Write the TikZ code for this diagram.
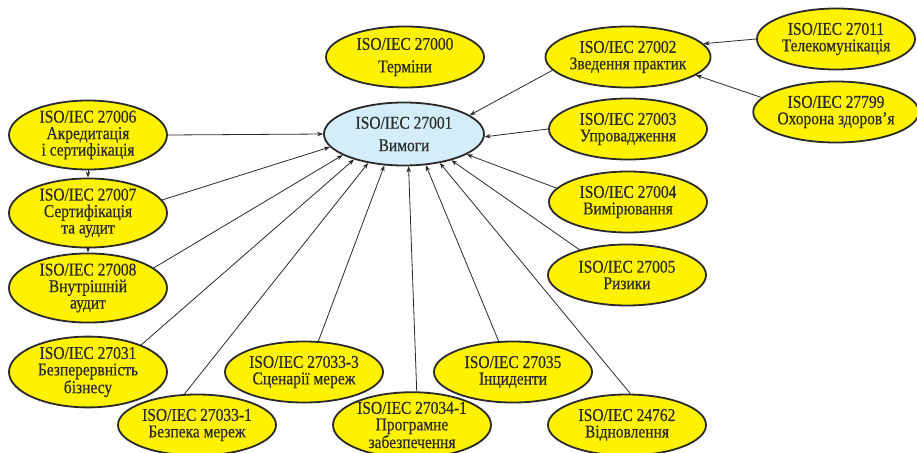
\documentclass[tikz,border=0pt]{standalone}
\usepackage{fontspec}
\setmainfont{Liberation Serif}[FakeStretch=0.86,FakeBold=0.4]
\usetikzlibrary{shapes.geometric,arrows.meta}
\definecolor{ylw}{HTML}{FFF200}
\definecolor{lblue}{HTML}{D4EEF9}
\definecolor{ink}{HTML}{2A2A2A}
\tikzset{
  std/.style={ellipse, draw=ink, line width=1.8pt, fill=ylw, minimum width=158pt, minimum height=61pt,
    inner sep=0pt, align=center, text=ink, font=\fontsize{18}{16.5}\selectfont},
  wide/.style={std, font=\fontsize{18}{22.5}\selectfont},
  arr/.style={draw=ink, line width=0.8pt, -{Stealth[length=6pt,width=4.5pt]}}
}
\begin{document}
\begin{tikzpicture}[x=1pt,y=-1pt]
\useasboundingbox (0,0) rectangle (917,452);
\node[wide] (t0) at (405,57) {ISO/IEC 27000\\Терміни};
\node[wide, fill=lblue, minimum width=160pt, minimum height=63pt] (c) at (404,134) {ISO/IEC 27001\\Вимоги};
\node[std] (n2) at (628,57) {ISO/IEC 27002\\Зведення практик};
\node[std] (n3) at (628,129) {ISO/IEC 27003\\Упровадження};
\node[std] (n4) at (628,202) {ISO/IEC 27004\\Вимірювання};
\node[std] (n5) at (627,275) {ISO/IEC 27005\\Ризики};
\node[std] (n11) at (836,39) {ISO/IEC 27011\\Телекомунікація};
\node[std] (n799) at (836,112) {ISO/IEC 27799\\Охорона здоров’я};
\node[std] (n6) at (88,135) {ISO/IEC 27006\\Акредитація\\і сертифікація};
\node[std] (n7) at (88,213) {ISO/IEC 27007\\Сертифікація\\та аудит};
\node[std] (n8) at (88,288) {ISO/IEC 27008\\Внутрішній\\аудит};
\node[std] (n31) at (88,372) {ISO/IEC 27031\\Безперервність\\бізнесу};
\node[std] (n331) at (197,425) {ISO/IEC 27033-1\\Безпека мереж};
\node[std] (n333) at (304,372) {ISO/IEC 27033-3\\Сценарії мереж};
\node[std] (n341) at (412,425) {ISO/IEC 27034-1\\Програмне\\забезпечення};
\node[std] (n35) at (513,372) {ISO/IEC 27035\\Інциденти};
\node[std] (n24) at (627,425) {ISO/IEC 24762\\Відновлення};

\draw[arr] (n6.east) -- (c.west);
\draw[arr] (n6.south) -- (n7.north);
\draw[arr] (n7.south) -- (n8.north);
\draw[arr] (n7.10) -- (c.190);
\draw[arr] (n8.17) -- (c.199);
\draw[arr] (n31.27) -- (c.207);
\draw[arr] (n331.112) -- (c.219);
\draw[arr] (n333.65) -- (c.238);
\draw[arr] (n341.82) -- (c.278);
\draw[arr] (n35.115) -- (c.305);
\draw[arr] (n24.84) -- (c.321);
\draw[arr] (n5.152) -- (c.331);
\draw[arr] (n4.169) -- (c.342);
\draw[arr] (n3.west) -- (c.358);
\draw[arr] (n2.190) -- (c.16);
\draw[arr] (n11.west) -- (n2.10);
\draw[arr] (n799.169) -- (n2.345);
\end{tikzpicture}
\end{document}
